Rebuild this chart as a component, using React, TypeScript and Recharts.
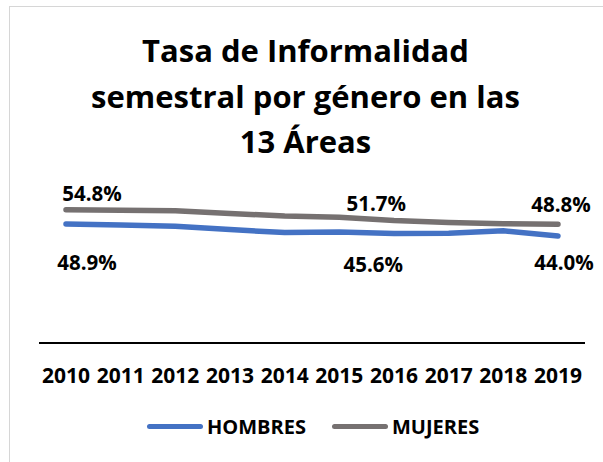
import React from "react";
import { LineChart, Line, XAxis, YAxis, Legend } from "recharts";

const years = ["2010", "2011", "2012", "2013", "2014", "2015", "2016", "2017", "2018", "2019"];
const hombres = [48.9, 48.5, 48.0, 46.6, 45.4, 45.6, 45.0, 45.1, 46.1, 44.0];
const mujeres = [54.8, 54.6, 54.3, 53.2, 52.2, 51.7, 50.3, 49.5, 49.0, 48.8];
const titleLines = ["Tasa de Informalidad", "semestral por género en las", "13 Áreas"];

const BLUE = "#4472C4";
const GRAY = "#767171";
const FONT = "'Open Sans', Lato, sans-serif";

const data = years.map((y, i) => ({ year: y, hombres: hombres[i], mujeres: mujeres[i] }));

// where Excel put the few data labels (offsets from the point)
const labelOffsets: Record<string, Record<number, [number, number]>> = {
  mujeres: { 0: [26, -17], 5: [37, -14], 9: [3, -20] },
  hombres: { 0: [21, 38], 5: [34, 32], 9: [6, 26] },
};

function makeLabel(key: string) {
  return (props: any) => {
    const { x, y, index, value } = props;
    const off = labelOffsets[key][index];
    if (!off) return null;
    return (
      <text
        x={x + off[0]}
        y={y + off[1]}
        textAnchor="middle"
        dominantBaseline="central"
        fontFamily={FONT}
        fontWeight={700}
        fontSize={20.5}
        fill="#000"
      >
        {value.toFixed(1)}%
      </text>
    );
  };
}

function LegendBox() {
  const item = (color: string, label: string, ml: number) => (
    <div style={{ display: "flex", alignItems: "center", marginLeft: ml }}>
      <div style={{ width: 56, height: 5, borderRadius: 3, background: color }} />
      <span style={{ marginLeft: 4, fontFamily: FONT, fontWeight: 700, fontSize: 20, color: "#000" }}>
        {label}
      </span>
    </div>
  );
  return (
    <div style={{ display: "flex", alignItems: "center", paddingLeft: 147 }}>
      {item(BLUE, "HOMBRES", 0)}
      {item(GRAY, "MUJERES", 26)}
    </div>
  );
}

export default function App() {
  return (
    <div style={{ position: "absolute", left: 0, top: 0, width: 603, height: 462, background: "#fff", overflow: "hidden" }}>
      <div
        style={{
          position: "absolute",
          left: 9,
          top: 6,
          width: 600,
          height: 460,
          borderTop: "1px solid #d6d6d6",
          borderLeft: "1px solid #d6d6d6",
        }}
      />
      <div
        style={{
          position: "absolute",
          left: 0,
          top: 28,
          width: 603,
          textAlign: "center",
          fontFamily: FONT,
          fontWeight: 700,
          fontSize: 31,
          lineHeight: "45.5px",
          color: "#000",
          paddingLeft: 8,
          boxSizing: "border-box",
        }}
      >
        {titleLines.map((t) => (
          <div key={t}>{t}</div>
        ))}
      </div>
      <div style={{ position: "absolute", left: 0, top: 0 }}>
        <LineChart width={603} height={462} data={data} margin={{ top: 197, right: 18, left: 39, bottom: 79 }}>
          <XAxis
            dataKey="year"
            padding={{ left: 27, right: 27 }}
            axisLine={{ stroke: "#000", strokeWidth: 2 }}
            tickLine={false}
            tickMargin={19}
            height={40}
            interval={0}
            tick={{ fill: "#000", fontFamily: FONT, fontWeight: 700, fontSize: 21 }}
          />
          <YAxis hide domain={[0, 60]} />
          <Legend
            verticalAlign="middle"
            layout="horizontal"
            content={() => <LegendBox />}
            wrapperStyle={{ top: 413, left: 0, width: 603 }}
          />
          <Line
            dataKey="hombres"
            name="HOMBRES"
            stroke={BLUE}
            strokeWidth={5.5}
            strokeLinecap="round"
            dot={false}
            label={makeLabel("hombres")}
            isAnimationActive={false}
          />
          <Line
            dataKey="mujeres"
            name="MUJERES"
            stroke={GRAY}
            strokeWidth={5.5}
            strokeLinecap="round"
            dot={false}
            label={makeLabel("mujeres")}
            isAnimationActive={false}
          />
        </LineChart>
      </div>
    </div>
  );
}
